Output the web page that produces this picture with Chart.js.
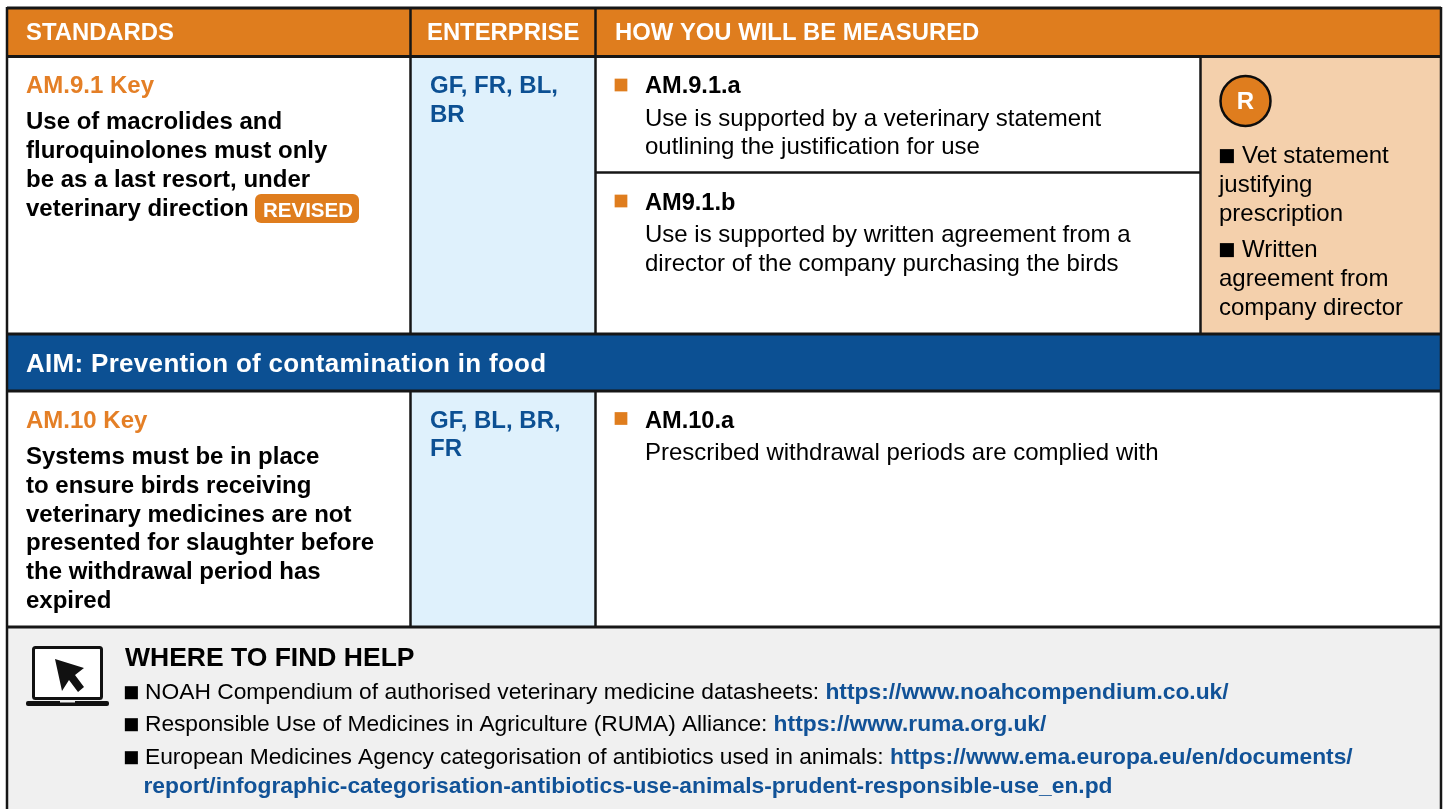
<!DOCTYPE html>
<html lang="en">
<head>
  <meta charset="UTF-8">
  <title>Standards table</title>
  <script src="https://cdn.jsdelivr.net/npm/chart.js@4"></script>
  <style>
    body { margin: 0; background: #ffffff; }
    canvas { display: block; }
  </style>
</head>
<body>
  <canvas id="standards-chart" width="1447" height="809"></canvas>

  <script>
    // table content
    var headers = ['STANDARDS', 'ENTERPRISE', 'HOW YOU WILL BE MEASURED'];
    var aimTitle = 'AIM: Prevention of contamination in food';
    var helpTitle = 'WHERE TO FIND HELP';

    var std91Code = 'AM.9.1 Key';
    var std91Lines = ['Use of macrolides and', 'fluroquinolones must only', 'be as a last resort, under', 'veterinary direction'];
    var revisedTag = 'REVISED';
    var std91Enterprise = ['GF, FR, BL,', 'BR'];
    var measureA = ['AM.9.1.a', 'Use is supported by a veterinary statement', 'outlining the justification for use'];
    var measureB = ['AM9.1.b', 'Use is supported by written agreement from a', 'director of the company purchasing the birds'];
    var recordMark = 'R';
    var recordLines = ['Vet statement', 'justifying', 'prescription', 'Written', 'agreement from', 'company director'];

    var std10Code = 'AM.10 Key';
    var std10Lines = ['Systems must be in place', 'to ensure birds receiving', 'veterinary medicines are not', 'presented for slaughter before', 'the withdrawal period has', 'expired'];
    var std10Enterprise = ['GF, BL, BR,', 'FR'];
    var measureC = ['AM.10.a', 'Prescribed withdrawal periods are complied with'];

    var helpLines = [
      'NOAH Compendium of authorised veterinary medicine datasheets: ',
      'Responsible Use of Medicines in Agriculture (RUMA) Alliance: ',
      'European Medicines Agency categorisation of antibiotics used in animals: '
    ];
    var helpLinks = [
      'https://www.noahcompendium.co.uk/',
      'https://www.ruma.org.uk/',
      'https://www.ema.europa.eu/en/documents/',
      'report/infographic-categorisation-antibiotics-use-animals-prudent-responsible-use_en.pd'
    ];

    var ORANGE = '#df7d1e';
    var KEY_ORANGE = '#e47f26';
    var BLUE = '#0c5093';
    var LINK = '#115297';
    var LINE = '#161616';
    var FONT = '"Liberation Sans", Arial, sans-serif';

    // one filled table cell: line along the top, filled down to the bottom
    function cell(x0, x1, y0, y1, color) {
      return {
        data: [{ x: x0, y: y0 }, { x: x1, y: y0 }],
        showLine: true,
        borderWidth: 0,
        pointRadius: 0,
        fill: { target: { value: y1 }, above: color, below: color }
      };
    }

    function rule(x0, y0, x1, y1, width) {
      return {
        data: [{ x: x0, y: y0 }, { x: x1, y: y1 }],
        showLine: true,
        borderColor: LINE,
        borderWidth: width || 2.5,
        pointRadius: 0,
        fill: false
      };
    }

    function marker(x, y, size, color) {
      return {
        data: [{ x: x, y: y }],
        pointStyle: 'rect',
        pointRadius: size,
        pointBackgroundColor: color,
        pointBorderWidth: 0
      };
    }

    var datasets = [
      // rules go first in the list so they draw on top
      rule(7, 8, 1441, 8, 3),
      rule(7, 56.5, 1441, 56.5, 3),
      rule(7, 334, 1441, 334, 3),
      rule(7, 391, 1441, 391, 3),
      rule(7, 627, 1441, 627, 3),
      rule(7, 7, 7, 809, 2.5),
      rule(1441, 7, 1441, 809, 2.5),
      rule(410.5, 8, 410.5, 334),
      rule(410.5, 391, 410.5, 627),
      rule(595.5, 8, 595.5, 334),
      rule(595.5, 391, 595.5, 627),
      rule(1200.5, 56, 1200.5, 334),
      rule(596, 172.5, 1200, 172.5),
      // record badge
      {
        data: [{ x: 1245.5, y: 101 }],
        pointStyle: 'circle',
        pointRadius: 25,
        pointBackgroundColor: ORANGE,
        pointBorderColor: '#0d0d0d',
        pointBorderWidth: 2.5
      },
      marker(621, 85, 9, ORANGE),
      marker(621, 201, 9, ORANGE),
      marker(621, 418.5, 9, ORANGE),
      // cells
      cell(7, 1441, 8, 56, ORANGE),
      cell(410, 596, 56, 334, '#dff1fc'),
      cell(1200, 1441, 56, 334, '#f4d0ac'),
      cell(7, 1441, 334, 391, BLUE),
      cell(410, 596, 391, 627, '#dff1fc'),
      cell(7, 1441, 627, 809, '#f0f0f0')
    ];

    var tableText = {
      id: 'tableText',
      afterDatasetsDraw: function(chart) {
        var ctx = chart.ctx;
        var sx = chart.scales.x;
        var sy = chart.scales.y;

        function put(str, x, y, font, color, spacing) {
          ctx.font = font + ' ' + FONT;
          ctx.fillStyle = color;
          ctx.letterSpacing = (spacing || 0) + 'px';
          ctx.textBaseline = 'alphabetic';
          ctx.fillText(str, sx.getPixelForValue(x), sy.getPixelForValue(y));
          return ctx.measureText(str).width;
        }

        function block(lines, x, ys, font, color, spacing) {
          lines.forEach(function(line, i) {
            put(line, x, ys[i], font, color, spacing);
          });
        }

        var H = 'bold 23.85px';
        var B = 'bold 24px';
        var R = '24px';
        var S = '22.8px';

        put(headers[0], 26, 40, H, '#ffffff');
        put(headers[1], 427, 40, H, '#ffffff');
        put(headers[2], 615, 40, H, '#ffffff');

        put(std91Code, 26, 93, B, KEY_ORANGE);
        block(std91Lines, 26, [129, 158, 187, 216], B, '#000000');
        block(std91Enterprise, 430, [93, 122], B, BLUE);

        // revised pill
        ctx.fillStyle = ORANGE;
        ctx.beginPath();
        ctx.roundRect(sx.getPixelForValue(255), sy.getPixelForValue(194), 104, 29, 6);
        ctx.fill();
        put(revisedTag, 263, 216.5, 'bold 20.5px', '#ffffff');

        put(measureA[0], 645, 93, 'bold 23.6px', '#000000');
        block(measureA.slice(1), 645, [126, 154], R, '#000000');
        put(measureB[0], 645, 210, 'bold 23.6px', '#000000');
        block(measureB.slice(1), 645, [242, 271], R, '#000000');

        ctx.textAlign = 'center';
        put(recordMark, 1245.5, 109, B, '#ffffff');
        ctx.textAlign = 'left';

        put('\u25A0', 1218, 165, '29px', '#000000');
        put('\u25A0', 1218, 259, '29px', '#000000');
        put(recordLines[0], 1242, 163, R, '#000000');
        put(recordLines[1], 1219, 192, R, '#000000');
        put(recordLines[2], 1219, 221, R, '#000000');
        put(recordLines[3], 1242, 257, R, '#000000');
        put(recordLines[4], 1219, 286, R, '#000000');
        put(recordLines[5], 1219, 315, R, '#000000');

        put(aimTitle, 26, 372, 'bold 26px', '#ffffff', 0.3);

        put(std10Code, 26, 428, B, KEY_ORANGE);
        block(std10Lines, 26, [464, 493, 522, 550, 579, 608], B, '#000000');
        block(std10Enterprise, 430, [428, 456], B, BLUE);
        put(measureC[0], 645, 428, 'bold 23.6px', '#000000');
        put(measureC[1], 645, 460, R, '#000000');

        put(helpTitle, 125, 666, 'bold 26.5px', '#000000');
        var helpY = [699, 731, 764];
        var helpSpacing = [0, -0.08, -0.055];
        helpLines.forEach(function(line, i) {
          put('\u25A0', 123, helpY[i] + 2, '27px', '#000000');
          var w = put(line, 145, helpY[i], S, '#000000', helpSpacing[i]);
          put(helpLinks[i], 145 + w, helpY[i], 'bold ' + S, LINK);
        });
        put(helpLinks[3], 143.5, 793, 'bold ' + S, LINK);

        // laptop icon
        ctx.strokeStyle = '#111111';
        ctx.fillStyle = '#ffffff';
        ctx.lineWidth = 3;
        ctx.beginPath();
        ctx.roundRect(sx.getPixelForValue(33.5), sy.getPixelForValue(647.5), 68, 51, 2);
        ctx.fill();
        ctx.stroke();
        ctx.fillStyle = '#111111';
        ctx.beginPath();
        ctx.roundRect(sx.getPixelForValue(26), sy.getPixelForValue(701), 83, 5, 2);
        ctx.fill();
        ctx.fillStyle = '#f0f0f0';
        ctx.fillRect(sx.getPixelForValue(60), sy.getPixelForValue(701), 15, 1.5);
        ctx.fillStyle = '#111111';
        var arrow = [[55, 659], [84, 668], [75, 675], [84, 687], [78, 692], [69, 680], [62, 691]];
        ctx.beginPath();
        arrow.forEach(function(p, i) {
          var px = sx.getPixelForValue(p[0]);
          var py = sy.getPixelForValue(p[1]);
          if (i === 0) ctx.moveTo(px, py); else ctx.lineTo(px, py);
        });
        ctx.closePath();
        ctx.fill();
      }
    };

    new Chart(document.getElementById('standards-chart'), {
      type: 'scatter',
      data: { datasets: datasets },
      plugins: [tableText],
      options: {
        responsive: false,
        animation: false,
        layout: { padding: 0, autoPadding: false },
        plugins: { legend: { display: false }, tooltip: { enabled: false } },
        scales: {
          x: { type: 'linear', display: false, min: 0, max: 1447 },
          y: { type: 'linear', display: false, reverse: true, min: 0, max: 809 }
        }
      }
    });
  </script>
</body>
</html>
